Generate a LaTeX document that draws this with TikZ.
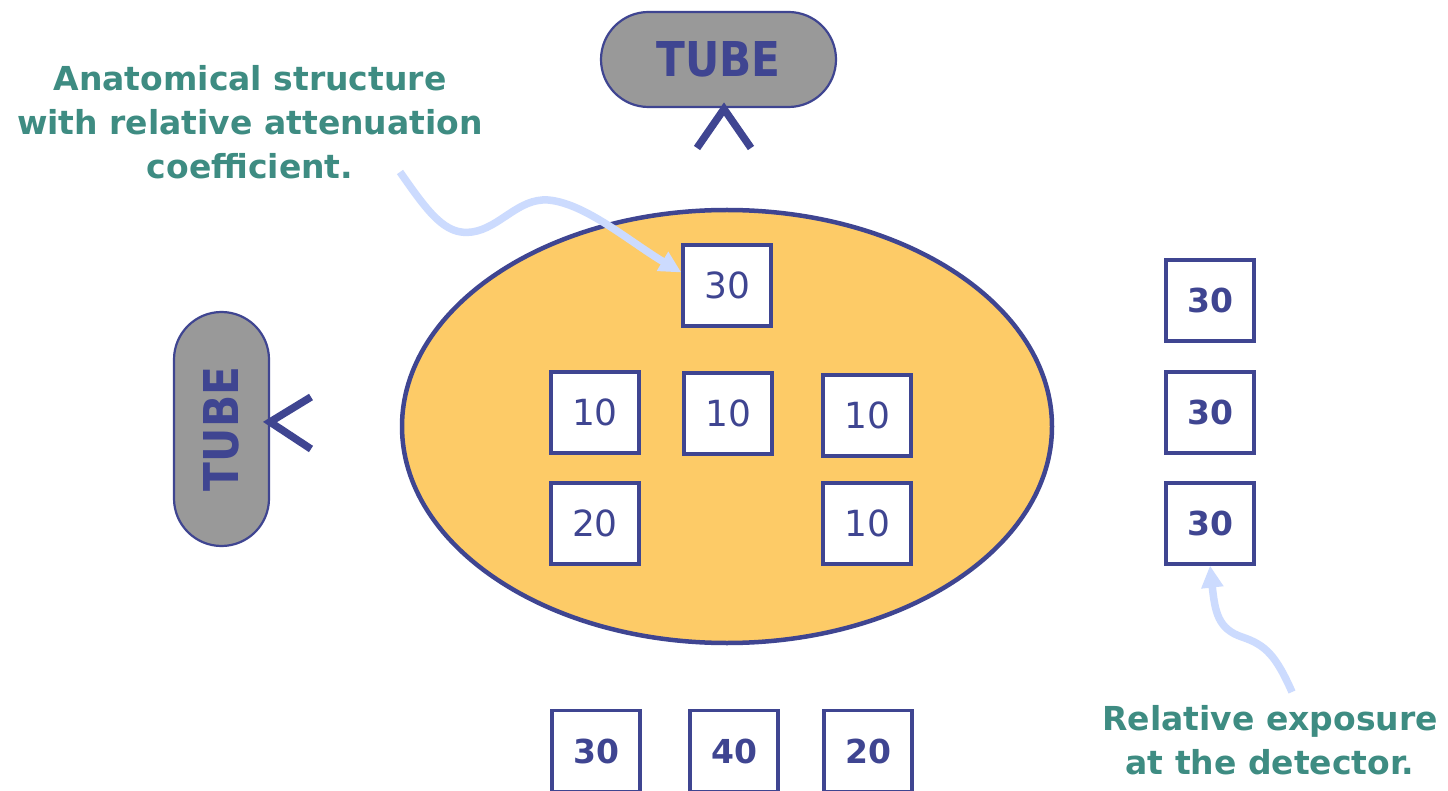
\documentclass[tikz,border=0pt]{standalone}
\usepackage{fontspec}
\setmainfont{DejaVu Sans}
\usetikzlibrary{arrows.meta}
\definecolor{navy}{HTML}{3F4591}
\definecolor{body}{HTML}{FDCB67}
\definecolor{tubegray}{HTML}{999999}
\definecolor{teal}{HTML}{3E8C82}
\definecolor{pointer}{HTML}{CCDBFE}
\newcommand{\tubelabel}{\scalebox{0.88}[1]{TUBE}}
\tikzset{
  cell/.style={draw=navy, line width=3.2pt, fill=white, minimum width=88pt,
    minimum height=81pt, inner sep=0pt, text=navy, font=\fontsize{36}{36}\selectfont},
  detcell/.style={cell, font=\bfseries\fontsize{33}{33}\selectfont},
  tubebox/.style={draw=navy, line width=2.2pt, fill=tubegray, text=navy,
    inner sep=0pt, font=\bfseries\fontsize{48}{48}\selectfont},
  beam/.style={draw=navy, line width=7.5pt},
  caption/.style={text=teal, align=center, font=\bfseries\fontsize{33}{44}\selectfont},
  pointerline/.style={draw=pointer, line width=7.5pt,
    -{Triangle[length=22pt,width=21pt]}}
}
\begin{document}
\begin{tikzpicture}[x=1pt,y=-1pt]
\clip (0,0) rectangle (1448,791);
\fill[white] (0,0) rectangle (1448,791);

% patient cross-section
\draw[navy, line width=4.5pt, fill=body] (727,426.5) ellipse [x radius=325, y radius=216.5];

% x-ray tubes with beam markers
\node[tubebox, minimum width=235pt, minimum height=95pt, rounded corners=47.5pt] (tubetop) at (718.5,59.5) {\tubelabel};
\node[tubebox, minimum width=95pt, minimum height=234pt, rounded corners=47.5pt] (tubeleft) at (221.5,429) {\rotatebox{90}{\tubelabel}};
\coordinate (apextop) at (724,109);
\coordinate (apexleft) at (270,422);
\draw[beam] (697,148) -- (apextop) -- (751,148);
\draw[beam] (311,397) -- (apexleft) -- (311,449);

% structures inside the body
\node[cell] (s1) at (727,285.5) {30};
\node[cell] (s2) at (595,412.5) {10};
\node[cell] (s3) at (728,413.5) {10};
\node[cell] (s4) at (867,415.5) {10};
\node[cell] (s5) at (595,523.5) {20};
\node[cell] (s6) at (867,523.5) {10};

% detector readings, lateral projection
\node[detcell] (r1) at (1210,300.5) {30};
\node[detcell] (r2) at (1210,412.5) {30};
\node[detcell] (r3) at (1210,523.5) {30};

% detector readings, vertical projection
\node[detcell] (d1) at (596,751) {30};
\node[detcell] (d2) at (734,751) {40};
\node[detcell] (d3) at (868,751) {20};

% captions
\node[caption] (capA) at (250,122) {Anatomical structure\\with relative attenuation\\coefficient.};
\node[caption] (capB) at (1270,740) {Relative exposure\\at the detector.};

% pointers
\coordinate (pA) at (400,172);
\coordinate (pB) at (1292,692);
\draw[pointerline] (pA) .. controls (428,212) and (445,236) .. (472,232)
  .. controls (500,228) and (518,198) .. (548,200)
  .. controls (585,203) and (630,242) .. ([yshift=13pt]s1.west);
\draw[pointerline] (pB) .. controls (1276,656) and (1266,645) .. (1242,637)
  .. controls (1218,629) and (1215,612) .. (r3.south);
\end{tikzpicture}
\end{document}
